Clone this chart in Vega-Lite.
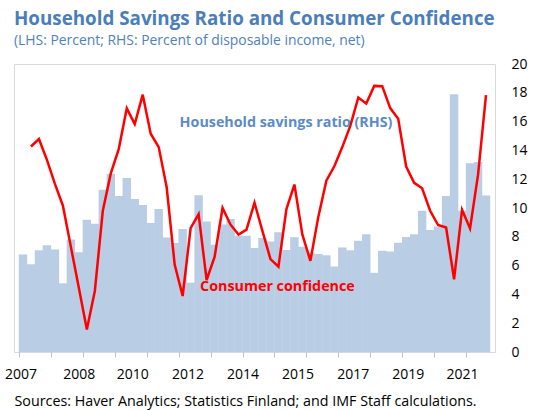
{
  "$schema": "https://vega.github.io/schema/vega-lite/v6.json",
  "width": 481,
  "height": 288,
  "autosize": {"type": "none"},
  "padding": {"left": 14, "top": 64, "right": 38, "bottom": 58},
  "config": {
    "font": "Open Sans",
    "view": {"stroke": "#D9D9D9", "strokeWidth": 1},
    "axis": {"labelFont": "Open Sans", "titleFont": "Open Sans"}
  },
  "title": {
    "text": "Household Savings Ratio and Consumer Confidence",
    "subtitle": "(LHS: Percent; RHS: Percent of disposable income, net)",
    "anchor": "start",
    "frame": "group",
    "font": "Open Sans",
    "fontSize": 18.8,
    "fontWeight": "bold",
    "color": "#4A7EBB",
    "subtitleFont": "Open Sans",
    "subtitleFontSize": 13.9,
    "subtitleColor": "#4F81BD",
    "offset": 9,
    "subtitlePadding": 5
  },
  "datasets": {
    "series": [
      {"t": 2007.125, "savings": 6.77, "confidence": null},
      {"t": 2007.375, "savings": 6.1, "confidence": 14.27},
      {"t": 2007.625, "savings": 7.07, "confidence": 14.79},
      {"t": 2007.875, "savings": 7.42, "confidence": 13.34},
      {"t": 2008.125, "savings": 7.12, "confidence": 11.67},
      {"t": 2008.375, "savings": 4.77, "confidence": 10.16},
      {"t": 2008.625, "savings": 7.82, "confidence": 7.3},
      {"t": 2008.875, "savings": 6.93, "confidence": 4.45},
      {"t": 2009.125, "savings": 9.19, "confidence": 1.57},
      {"t": 2009.375, "savings": 8.91, "confidence": 4.24},
      {"t": 2009.625, "savings": 11.27, "confidence": 9.81},
      {"t": 2009.875, "savings": 12.37, "confidence": 12.4},
      {"t": 2010.125, "savings": 10.84, "confidence": 14.11},
      {"t": 2010.375, "savings": 12.09, "confidence": 16.92},
      {"t": 2010.625, "savings": 10.63, "confidence": 15.83},
      {"t": 2010.875, "savings": 10.21, "confidence": 17.87},
      {"t": 2011.125, "savings": 8.95, "confidence": 15.16},
      {"t": 2011.375, "savings": 9.93, "confidence": 14.23},
      {"t": 2011.625, "savings": 7.96, "confidence": 11.44},
      {"t": 2011.875, "savings": 7.57, "confidence": 6.07},
      {"t": 2012.125, "savings": 8.54, "confidence": 3.89},
      {"t": 2012.375, "savings": 4.81, "confidence": 8.6},
      {"t": 2012.625, "savings": 10.88, "confidence": 9.57},
      {"t": 2012.875, "savings": 9.07, "confidence": 5.0},
      {"t": 2013.125, "savings": 7.44, "confidence": 6.6},
      {"t": 2013.375, "savings": 8.85, "confidence": 10.0},
      {"t": 2013.625, "savings": 9.23, "confidence": 8.84},
      {"t": 2013.875, "savings": 8.07, "confidence": 8.15},
      {"t": 2014.125, "savings": 8.07, "confidence": 8.5},
      {"t": 2014.375, "savings": 7.22, "confidence": 10.37},
      {"t": 2014.625, "savings": 7.91, "confidence": 8.4},
      {"t": 2014.875, "savings": 7.68, "confidence": 6.45},
      {"t": 2015.125, "savings": 8.32, "confidence": 5.92},
      {"t": 2015.375, "savings": 7.08, "confidence": 9.93},
      {"t": 2015.625, "savings": 7.97, "confidence": 11.63},
      {"t": 2015.875, "savings": 7.31, "confidence": 8.15},
      {"t": 2016.125, "savings": 6.89, "confidence": 6.33},
      {"t": 2016.375, "savings": 6.8, "confidence": 9.4},
      {"t": 2016.625, "savings": 6.72, "confidence": 11.9},
      {"t": 2016.875, "savings": 5.94, "confidence": 12.9},
      {"t": 2017.125, "savings": 7.26, "confidence": 14.23},
      {"t": 2017.375, "savings": 7.07, "confidence": 15.7},
      {"t": 2017.625, "savings": 7.72, "confidence": 17.67},
      {"t": 2017.875, "savings": 8.17, "confidence": 17.25},
      {"t": 2018.125, "savings": 5.5, "confidence": 18.48},
      {"t": 2018.375, "savings": 7.03, "confidence": 18.46},
      {"t": 2018.625, "savings": 6.98, "confidence": 16.94},
      {"t": 2018.875, "savings": 7.58, "confidence": 16.2},
      {"t": 2019.125, "savings": 7.98, "confidence": 12.88},
      {"t": 2019.375, "savings": 8.17, "confidence": 11.75},
      {"t": 2019.625, "savings": 9.81, "confidence": 11.37},
      {"t": 2019.875, "savings": 8.47, "confidence": 9.81},
      {"t": 2020.125, "savings": 8.72, "confidence": 8.82},
      {"t": 2020.375, "savings": 10.84, "confidence": 8.65},
      {"t": 2020.625, "savings": 17.9, "confidence": 5.05},
      {"t": 2020.875, "savings": 9.81, "confidence": 9.88},
      {"t": 2021.125, "savings": 13.1, "confidence": 8.58},
      {"t": 2021.375, "savings": 13.2, "confidence": 12.3},
      {"t": 2021.625, "savings": 10.86, "confidence": 17.83}
    ],
    "notes": [
      {"t": 2012.03, "v": 15.9, "label": "Household savings ratio (RHS)", "series": "savings"},
      {"t": 2012.67, "v": 4.49, "label": "Consumer confidence", "series": "confidence"}
    ]
  },
  "resolve": {"axis": {"x": "independent", "y": "independent"}},
  "layer": [
    {
      "data": {"name": "series"},
      "mark": {"type": "bar", "size": 8.4, "color": "#B9CDE5"},
      "encoding": {
        "x": {
          "field": "t", "type": "quantitative",
          "scale": {"domain": [2007, 2021.75], "nice": false, "zero": false},
          "axis": {
            "orient": "bottom",
            "values": [2007, 2008, 2009, 2010, 2011, 2012, 2013, 2014, 2015, 2016, 2017, 2018, 2019, 2020, 2021],
            "labels": false, "ticks": true, "tickSize": 5, "tickColor": "#BFBFBF",
            "domain": false, "grid": false, "title": null
          }
        },
        "y": {
          "field": "savings", "type": "quantitative",
          "scale": {"domain": [0, 20], "nice": false},
          "axis": {
            "orient": "right",
            "values": [0, 2, 4, 6, 8, 10, 12, 14, 16, 18, 20],
            "domain": false, "ticks": false, "grid": false,
            "labelPadding": 16, "labelFontSize": 14, "labelColor": "#000000",
            "labelFlush": false, "labelOverlap": false,
            "title": null
          }
        }
      }
    },
    {
      "data": {"name": "series"},
      "mark": {"type": "line", "color": "#FF0000", "strokeWidth": 2.5},
      "encoding": {
        "x": {
          "field": "t", "type": "quantitative",
          "axis": {
            "orient": "bottom",
            "values": [2007.05, 2008.875, 2010.55, 2012.275, 2014.0, 2015.725, 2017.45, 2019.175, 2020.875],
            "labelExpr": "datum.value < 2008 ? '2007' : datum.value < 2010 ? '2008' : datum.value < 2012 ? '2010' : datum.value < 2013.5 ? '2012' : datum.value < 2015 ? '2014' : datum.value < 2016.5 ? '2015' : datum.value < 2018.5 ? '2017' : datum.value < 2020 ? '2019' : '2021'",
            "ticks": false, "domain": false, "grid": false,
            "labelFlush": false, "labelOverlap": false,
            "labelFontSize": 14, "labelColor": "#000000", "labelPadding": 15,
            "title": "Sources: Haver Analytics; Statistics Finland; and IMF Staff calculations.",
            "titleFontWeight": "normal", "titleFontSize": 14.3, "titleColor": "#000000",
            "titleAnchor": "start", "titleAlign": "left", "titlePadding": 13
          }
        },
        "y": {"field": "confidence", "type": "quantitative", "axis": null}
      }
    },
    {
      "data": {"name": "notes"},
      "transform": [{"filter": "datum.series === 'savings'"}],
      "mark": {"type": "text", "align": "left", "baseline": "middle", "fontWeight": "bold", "fontSize": 14.3, "color": "#5B8BC9", "font": "Open Sans"},
      "encoding": {
        "x": {"field": "t", "type": "quantitative", "axis": null},
        "y": {"field": "v", "type": "quantitative", "axis": null},
        "text": {"field": "label"}
      }
    },
    {
      "data": {"name": "notes"},
      "transform": [{"filter": "datum.series === 'confidence'"}],
      "mark": {"type": "text", "align": "left", "baseline": "middle", "fontWeight": "bold", "fontSize": 14.3, "color": "#FF0000", "font": "Open Sans"},
      "encoding": {
        "x": {"field": "t", "type": "quantitative", "axis": null},
        "y": {"field": "v", "type": "quantitative", "axis": null},
        "text": {"field": "label"}
      }
    }
  ]
}
